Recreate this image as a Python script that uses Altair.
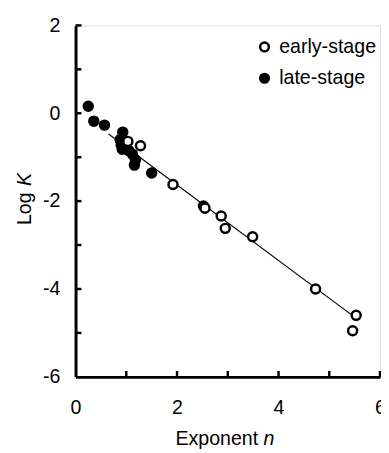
import altair as alt
import pandas as pd

# ---- data ----
late_n = [0.25, 0.36, 0.57, 0.93, 0.88, 0.90, 0.92, 1.05, 1.12, 1.18, 1.16, 1.50, 2.52]
late_logk = [0.16, -0.18, -0.27, -0.43, -0.60, -0.72, -0.82, -0.85, -0.93, -1.06, -1.18, -1.36, -2.11]
early_n = [1.03, 1.28, 1.92, 2.55, 2.87, 2.95, 3.49, 4.73, 5.53, 5.46]
early_logk = [-0.64, -0.74, -1.62, -2.16, -2.34, -2.62, -2.81, -4.00, -4.60, -4.95]
fit_n = [0.65, 5.50]
fit_logk = [-0.47, -4.64]
series_names = ["early-stage", "late-stage"]
x_label_values = [0, 2, 4, 6]
y_label_values = [-6, -4, -2, 0, 2]
x_tick_values = [1, 2, 3, 4, 5, 6]
y_tick_values = [-5, -4, -3, -2, -1, 0, 1, 2]

W, H = 311, 359
FONT = "Liberation Sans"
FS = 20

pts = pd.DataFrame({
    "n": late_n + early_n,
    "logK": late_logk + early_logk,
    "stage": ["late-stage"] * len(late_n) + ["early-stage"] * len(early_n),
})
fit = pd.DataFrame({"n": fit_n, "logK": fit_logk})

xs = alt.Scale(domain=[0, 6], nice=False, zero=False)
ys = alt.Scale(domain=[-6, 2], nice=False, zero=False)

x_axis = alt.Axis(values=x_label_values, title=None, ticks=False, tickSize=0,
                  labelPadding=21, domainWidth=3, domainColor="black", grid=False,
                  labelFont=FONT, labelFontSize=FS, labelColor="black",
                  labelFlush=False, labelBaseline="top", labelExpr="'' + datum.value")
y_axis = alt.Axis(values=y_label_values, title=None, ticks=False, tickSize=0,
                  labelPadding=16, domainWidth=3, domainColor="black", grid=False,
                  labelFont=FONT, labelFontSize=FS, labelColor="black",
                  labelExpr="'' + datum.value")

line = alt.Chart(fit).mark_line(color="black", strokeWidth=1.2).encode(
    x=alt.X("n:Q", scale=xs, axis=x_axis),
    y=alt.Y("logK:Q", scale=ys, axis=y_axis),
)

points = alt.Chart(pts).mark_point(shape="circle", filled=True, stroke="black",
                                   strokeWidth=2.5, opacity=1, strokeOpacity=1,
                                   fillOpacity=1, size=85).encode(
    x=alt.X("n:Q", scale=xs),
    y=alt.Y("logK:Q", scale=ys),
    fill=alt.Fill("stage:N", scale=alt.Scale(domain=series_names, range=["white", "black"]),
                  legend=alt.Legend(title=None, orient="none", legendX=183, legendY=12,
                                    labelFont=FONT, labelFontSize=FS, labelColor="black",
                                    symbolType="circle", symbolSize=80,
                                    symbolStrokeColor="black", symbolStrokeWidth=2.5,
                                    rowPadding=12, labelOffset=5, padding=0)),
)

ytk = alt.Chart(pd.DataFrame({"v": y_tick_values})).mark_rule(color="black", strokeWidth=2.5).encode(
    y=alt.Y("v:Q", scale=ys),
    x=alt.value(0),
    x2=alt.value(6),
)
xtk = alt.Chart(pd.DataFrame({"v": x_tick_values})).mark_rule(color="black", strokeWidth=2.5).encode(
    x=alt.X("v:Q", scale=xs),
    y=alt.value(H),
    y2=alt.value(H - 6),
)

xtitle = alt.Chart(pd.DataFrame({"t": ["Exponent"]})).mark_text(
    font=FONT, fontSize=FS, align="left", baseline="alphabetic", color="black"
).encode(text="t:N", x=alt.value(102), y=alt.value(H + 70))
xtitle_n = alt.Chart(pd.DataFrame({"t": ["n"]})).mark_text(
    font=FONT, fontSize=FS, align="left", baseline="alphabetic", fontStyle="italic", color="black"
).encode(text="t:N", x=alt.value(192), y=alt.value(H + 70))

ytitle = alt.Chart(pd.DataFrame({"t": ["Log"]})).mark_text(
    font=FONT, fontSize=FS, align="left", baseline="middle", angle=270, color="black"
).encode(text="t:N", x=alt.value(-52), y=alt.value(204))
ytitle_k = alt.Chart(pd.DataFrame({"t": ["K"]})).mark_text(
    font=FONT, fontSize=FS, align="left", baseline="middle", angle=270, fontStyle="italic", color="black"
).encode(text="t:N", x=alt.value(-52), y=alt.value(204 - 40))

chart = alt.layer(line, ytk, xtk, points, xtitle, xtitle_n, ytitle, ytitle_k).properties(
    width=W, height=H,
    autosize=alt.AutoSizeParams(type="none"),
    padding={"left": 69, "top": 13, "right": 1, "bottom": 73},
).configure_view(stroke=None).configure(background="white")

chart.save("out.html", embed_options={"renderer": "svg", "actions": False})
